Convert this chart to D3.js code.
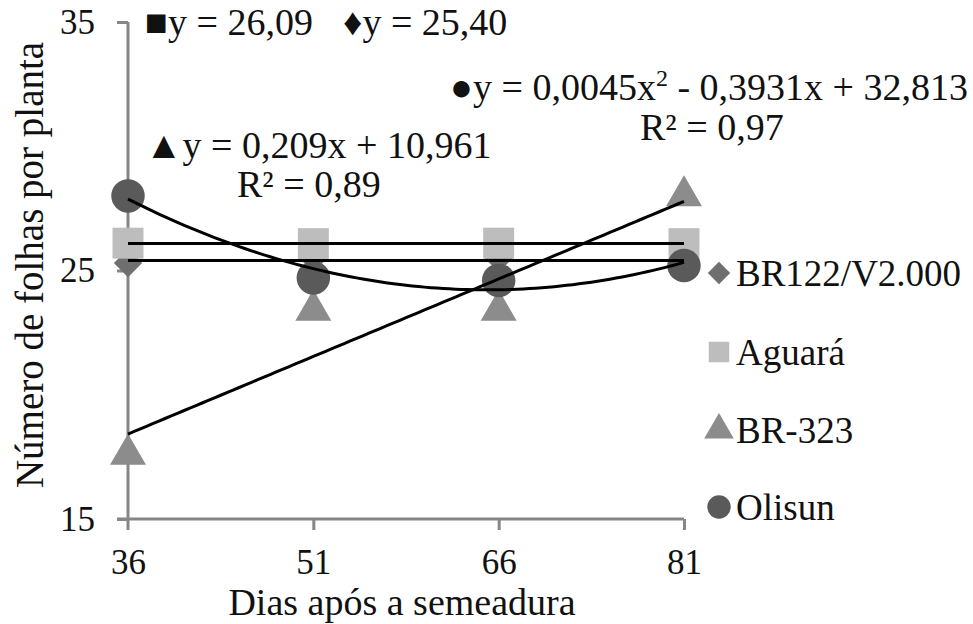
<!DOCTYPE html>
<html>
<head>
<meta charset="utf-8">
<script src="https://cdn.jsdelivr.net/npm/d3@7"></script>
<style>
  body { margin: 0; background: #fff; }
  svg text { font-family: "Liberation Serif", "Times New Roman", serif; fill: #111; }
</style>
</head>
<body>
<div class="charts-div"></div>
<script>
// values
const days = [36, 51, 66, 81];
const yTicks = [15, 25, 35];
const seriesNames = ["BR122/V2.000", "Aguará", "BR-323", "Olisun"];
const br122 = [25.3, 25.5, 25.5, 25.3];
const aguara = [26.1, 26.08, 26.1, 26.08];
const br323 = [17.6, 23.4, 23.4, 28.0];
const olisun = [28.0, 24.7, 24.6, 25.2];

const width = 973, height = 624;
const x = d3.scaleLinear().domain([36, 81]).range([128, 684]);
const y = d3.scaleLinear().domain([15, 35]).range([519, 22]);

const svg = d3.select(".charts-div").append("svg")
    .attr("width", width).attr("height", height);

const axisColor = "#868686";

// ---- axes ----
const yAxis = svg.append("g").attr("transform", `translate(${x(36)},0)`)
    .call(d3.axisLeft(y).tickValues(yTicks).tickSize(11).tickPadding(22));
const xAxis = svg.append("g").attr("transform", `translate(0,${y(15)})`)
    .call(d3.axisBottom(x).tickValues(days).tickSize(11).tickPadding(19));

[yAxis, xAxis].forEach((g) => {
    g.select(".domain").attr("stroke", axisColor).attr("stroke-width", 3);
    g.selectAll(".tick line").attr("stroke", axisColor).attr("stroke-width", 3);
    g.selectAll(".tick text").attr("font-size", 35).attr("fill", "#111");
});
// excel-like axis lines: y axis runs a little below the x axis, x axis a little left
yAxis.select(".domain").attr("d", `M0,${y(35)}V${y(15) + 11}`);
xAxis.select(".domain").attr("d", `M${-11 + x(36)},0H${x(81)}`);
xAxis.selectAll(".tick").filter((d) => d === 36).select("line").remove();

// ---- axis titles ----
svg.append("text")
    .attr("x", (x(36) + x(81)) / 2 - 4).attr("y", 615)
    .attr("text-anchor", "middle").attr("font-size", 38)
    .text("Dias após a semeadura");

svg.append("text")
    .attr("transform", `translate(43,${265}) rotate(-90)`)
    .attr("text-anchor", "middle").attr("font-size", 39)
    .text("Número de folhas por planta");

// ---- markers ----
const series = [
    { name: seriesNames[0], values: br122, color: "#6f6f6f", shape: d3.symbolSquare, size: 400, rot: 45 },
    { name: seriesNames[1], values: aguara, color: "#bdbdbd", shape: d3.symbolSquare, size: 960, rot: 0 },
    { name: seriesNames[2], values: br323, color: "#8c8c8c", shape: d3.symbolTriangle, size: 560, rot: 0 },
    { name: seriesNames[3], values: olisun, color: "#5a5a5a", shape: d3.symbolCircle, size: 880, rot: 0 }
];

series.forEach((s) => {
    svg.append("g").selectAll("path")
        .data(days.map((d, i) => [d, s.values[i]]))
        .join("path")
        .attr("transform", (d) => `translate(${x(d[0])},${y(d[1])}) rotate(${s.rot})`)
        .attr("d", d3.symbol().type(s.shape).size(s.size))
        .attr("fill", s.color);
});

// ---- trend lines ----
const mean = (a) => d3.mean(a);

function linFit(xs, ys) {
    const mx = mean(xs), my = mean(ys);
    const b = d3.sum(xs, (v, i) => (v - mx) * (ys[i] - my)) / d3.sum(xs, (v) => (v - mx) ** 2);
    return (t) => my + b * (t - mx);
}

function quadFit(xs, ys) {
    const mx = mean(xs);
    const u = xs.map((v) => v - mx);
    const S = (p) => d3.sum(u, (v) => v ** p);
    const T = (p) => d3.sum(u, (v, i) => v ** p * ys[i]);
    // normal equations, solved with Cramer's rule
    const A = [[u.length, S(1), S(2)], [S(1), S(2), S(3)], [S(2), S(3), S(4)]];
    const r = [T(0), T(1), T(2)];
    const det = (m) =>
        m[0][0] * (m[1][1] * m[2][2] - m[1][2] * m[2][1]) -
        m[0][1] * (m[1][0] * m[2][2] - m[1][2] * m[2][0]) +
        m[0][2] * (m[1][0] * m[2][1] - m[1][1] * m[2][0]);
    const D = det(A);
    const coef = [0, 1, 2].map((k) => det(A.map((row, i) => row.map((v, j) => (j === k ? r[i] : v)))) / D);
    return (t) => coef[0] + coef[1] * (t - mx) + coef[2] * (t - mx) ** 2;
}

const fits = [
    () => mean(br122),
    () => mean(aguara),
    linFit(days, br323),
    quadFit(days, olisun)
];

const line = d3.line().x((d) => x(d[0])).y((d) => y(d[1]));
const xs = d3.range(36, 81.01, 0.5);

fits.forEach((f) => {
    svg.append("path")
        .attr("d", line(xs.map((t) => [t, f(t)])))
        .attr("fill", "none")
        .attr("stroke", "#000")
        .attr("stroke-width", 3);
});

// ---- equation labels ----
const eq = svg.append("g").attr("font-size", 38);
eq.append("text").attr("x", 145).attr("y", 35).text("\u25A0y = 26,09");
eq.append("text").attr("x", 343).attr("y", 35).text("\u2666y = 25,40");
eq.append("text").attr("x", 145).attr("y", 158).text("\u25B2y = 0,209x + 10,961");
eq.append("text").attr("x", 237).attr("y", 197).text("R\u00B2 = 0,89");
const q = eq.append("text").attr("x", 450).attr("y", 100);
q.append("tspan").text("\u25CFy = 0,0045x");
q.append("tspan").attr("font-size", 24).attr("dy", -14).text("2");
q.append("tspan").attr("dy", 14).text(" - 0,3931x + 32,813");
eq.append("text").attr("x", 640).attr("y", 140).text("R\u00B2 = 0,97");

// ---- legend ----
const legendY = [273, 352, 430, 507];
const legendSize = [250, 420, 380, 430];
const legend = svg.append("g");
series.forEach((s, i) => {
    legend.append("path")
        .attr("transform", `translate(719,${legendY[i]}) rotate(${s.rot})`)
        .attr("d", d3.symbol().type(s.shape).size(legendSize[i]))
        .attr("fill", s.color);
    legend.append("text")
        .attr("x", 736).attr("y", legendY[i] + 13)
        .attr("font-size", 37)
        .text(s.name);
});
</script>
</body>
</html>
